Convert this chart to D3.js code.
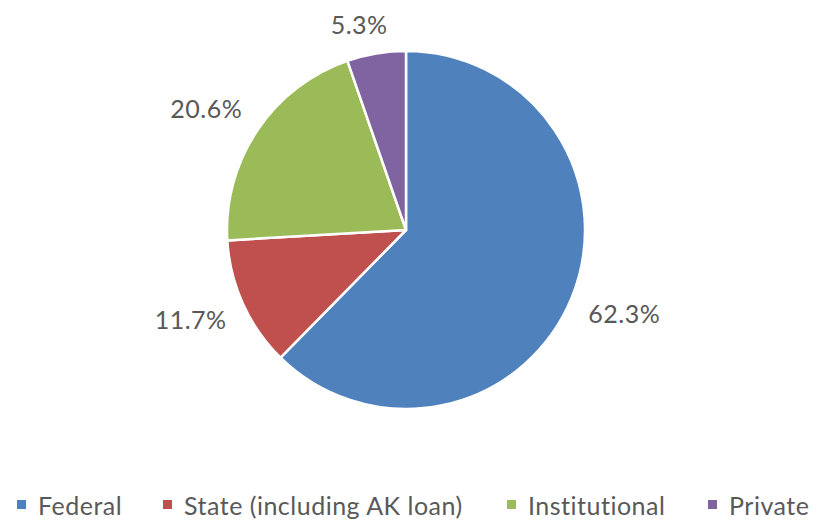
<!DOCTYPE html>
<html>
<head>
<meta charset="utf-8">
<script src="https://cdn.jsdelivr.net/npm/d3@7"></script>
<style>
  body { margin: 0; background: #fff; }
  text { font-family: Lato, "Open Sans", sans-serif; fill: #595959; letter-spacing: 0.5px; }
</style>
</head>
<body>
<div id="chart"></div>
<script>
const categories = ["Federal", "State (including AK loan)", "Institutional", "Private"];
const shares = [62.3, 11.7, 20.6, 5.3];
const colors = ["#4F81BD", "#C0504D", "#9BBB59", "#8064A2"];

const width = 825, height = 521;
const cx = 406, cy = 230, radius = 179;

const svg = d3.select("#chart").append("svg")
  .attr("width", width)
  .attr("height", height);

const data = categories.map((c, i) => ({ label: c, value: shares[i], color: colors[i] }));

const pie = d3.pie().value(d => d.value).sort(null);
const arc = d3.arc().innerRadius(0).outerRadius(radius);

const g = svg.append("g").attr("transform", "translate(" + cx + "," + cy + ")");

const arcs = pie(data);

g.selectAll("path")
  .data(arcs)
  .enter().append("path")
  .attr("d", arc)
  .attr("fill", d => d.data.color)
  .attr("stroke", "#fff")
  .attr("stroke-width", 2.5)
  .attr("stroke-linejoin", "round");

// outside-end labels: anchor point just off the rim, box corner hung on it
const labelR = radius + 18;
const boxH = 20;
g.selectAll("text.lbl")
  .data(arcs)
  .enter().append("text")
  .attr("class", "lbl")
  .attr("text-anchor", "middle")
  .attr("dominant-baseline", "central")
  .style("font-size", "25px")
  .text(d => d.data.value.toFixed(1) + "%")
  .each(function (d) {
    const w = this.getBBox().width;
    const a = (d.startAngle + d.endAngle) / 2;
    const s = Math.sin(a), c = -Math.cos(a);
    const fx = Math.sign(s) * Math.min(1, Math.abs(s) * 3);
    const fy = Math.sign(c) * Math.min(1, Math.abs(c) * 3);
    d3.select(this)
      .attr("x", s * labelR + fx * w / 2)
      .attr("y", c * labelR + fy * boxH / 2 - 2);
  });

// legend
const legendX = [17, 163, 507, 708];
const legend = svg.append("g").attr("transform", "translate(0,515)");
const items = legend.selectAll("g")
  .data(data)
  .enter().append("g")
  .attr("transform", (d, i) => "translate(" + legendX[i] + ",0)");

items.append("rect")
  .attr("x", 0).attr("y", -15)
  .attr("width", 9).attr("height", 9)
  .attr("fill", d => d.color);

items.append("text")
  .attr("x", 21)
  .attr("y", 0)
  .style("font-size", "25px")
  .text(d => d.label);
</script>
</body>
</html>
